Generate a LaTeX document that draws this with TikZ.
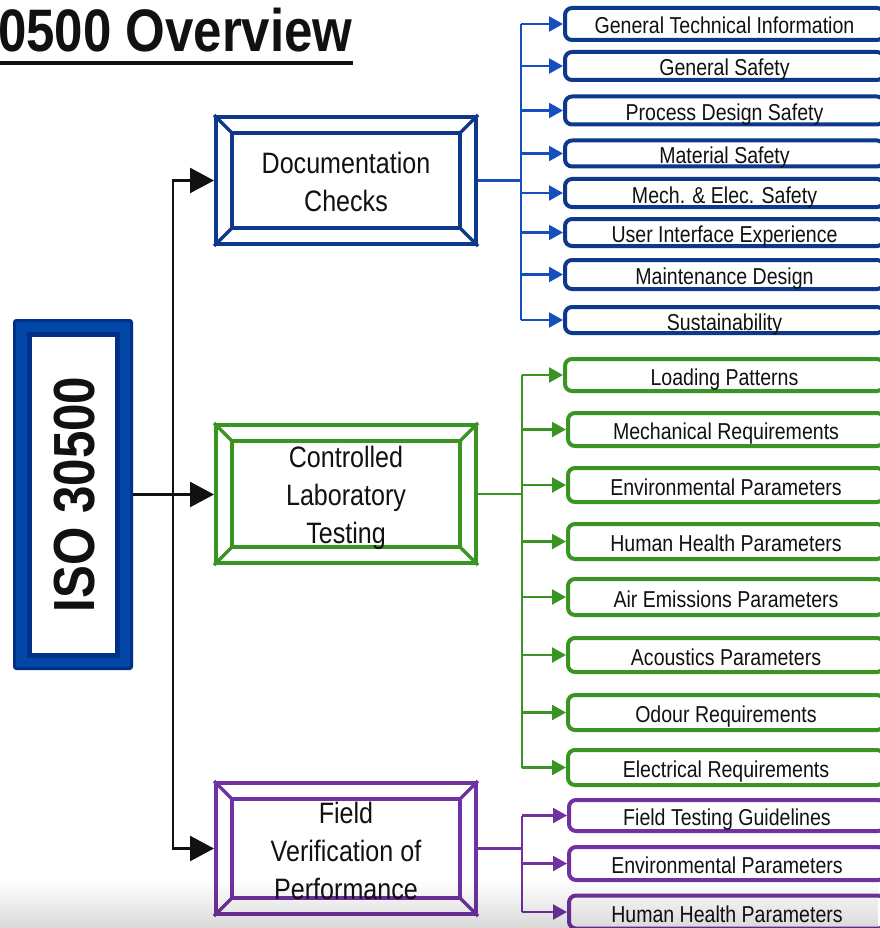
\documentclass[tikz,border=0pt]{standalone}
\usepackage{fontspec}
\setmainfont{Liberation Sans}
\newfontfamily\nar[FakeStretch=0.85]{Liberation Sans}
\usetikzlibrary{arrows.meta,calc,fadings}

\definecolor{navy}{RGB}{14,56,140}
\definecolor{linkblue}{RGB}{22,78,190}
\definecolor{isoblue}{RGB}{2,70,168}
\definecolor{isodark}{RGB}{0,48,135}
\definecolor{grn}{RGB}{58,148,34}
\definecolor{prp}{RGB}{112,50,160}
\definecolor{ink}{RGB}{17,17,17}

\tikzfading[name=hazefade, top color=transparent!100, bottom color=transparent!0]

% inner frame and corner bevels of a framed heading box
\newcommand\bevelparts[2]{%
  \draw[#2, line width=4pt]
    ($(#1.north west)+(18,18)$) rectangle ($(#1.south east)+(-18,-18)$);
  \draw[#2, line width=3.5pt]
    (#1.north west) -- +(18,18)
    (#1.north east) -- +(-18,18)
    (#1.south west) -- +(18,-18)
    (#1.south east) -- +(-18,-18);
}

\begin{document}
\begin{tikzpicture}[x=1pt,y=-1pt,
  bevel/.style={draw=#1, line width=4pt, rectangle, inner sep=0pt,
    minimum width=260pt},
  bigtext/.style={align=center, text=ink, inner sep=0pt,
    font=\nar\fontsize{29.5}{38}\selectfont},
  subbox/.style={draw=#1, line width=4pt, rounded corners=7pt, rectangle,
    inner sep=0pt, anchor=west, text=ink, fill=white,
    text height=20pt, text depth=0pt,
    font=\nar\fontsize{23}{23}\selectfont},
  mainarr/.style={line width=2.5pt, ink, -{Triangle[length=24pt,width=25pt]}},
  bus/.style={line width=2.2pt, #1},
  subarr/.style={line width=2.2pt, #1, -{Triangle[length=14pt,width=15pt]}},
]
\fill[white] (0,0) rectangle (879,928);
\useasboundingbox (0,0) rectangle (879,928);

% title
\node[anchor=base west, inner sep=0pt, text=ink,
  font=\nar\bfseries\fontsize{60}{60}\selectfont] (title) at (-2,52) {0500 Overview};
\draw[ink, line width=3.5pt] ($(title.base west)+(0,11)$) -- ($(title.base east)+(0,11)$);

% standard block
\node[draw=isodark, fill=isoblue, line width=3pt, rounded corners=2pt,
  minimum width=117pt, minimum height=348pt, inner sep=0pt] (iso) at (73,494.5) {};
\draw[isodark, fill=white, line width=5pt]
  ($(iso.north west)+(16,15)$) rectangle ($(iso.south east)+(-16,-15)$);
\node[rotate=90, inner sep=0pt, text=ink,
  font=\nar\bfseries\fontsize{58}{58}\selectfont] (isot) at ($(iso.center)+(2,0)$) {ISO 30500};

% heading boxes
\node[bevel=navy, minimum height=127pt] (doc) at (346,180.5) {};
\bevelparts{doc}{navy}
\node[bigtext] (doct) at ($(doc.center)+(0,1)$) {Documentation\\Checks};

\node[bevel=grn, minimum height=138pt] (ctl) at (346,494) {};
\bevelparts{ctl}{grn}
\node[bigtext] (ctlt) at ($(ctl.center)+(0,4)$) {Controlled\\Laboratory\\Testing};

\node[bevel=prp, minimum height=131pt] (fld) at (346,848.5) {};
\bevelparts{fld}{prp}
\node[bigtext] (fldt) at ($(fld.center)+(0,2.5)$) {Field\\Verification of\\Performance};

% main connectors
\coordinate (hub) at (173,494.5);
\draw[mainarr] (iso.east) -- (iso.east -| ctl.west);
\draw[mainarr] (hub) |- (doc.west);
\draw[mainarr] (hub) |- (fld.west);

% documentation items
\node[subbox=navy, minimum width=319pt, minimum height=32pt] (d1) at (563,24) {General Technical Information};
\node[subbox=navy, minimum width=319pt, minimum height=28pt] (d2) at (563,66) {General Safety};
\node[subbox=navy, minimum width=319pt, minimum height=28pt] (d3) at (563,110.5) {Process Design Safety};
\node[subbox=navy, minimum width=319pt, minimum height=26pt] (d4) at (563,153.5) {Material Safety};
\node[subbox=navy, minimum width=319pt, minimum height=28pt] (d5) at (563,193) {Mech. \& Elec. Safety};
\node[subbox=navy, minimum width=319pt, minimum height=27pt] (d6) at (563,232.5) {User Interface Experience};
\node[subbox=navy, minimum width=319pt, minimum height=29pt] (d7) at (563,274.5) {Maintenance Design};
\node[subbox=navy, minimum width=319pt, minimum height=26pt] (d8) at (563,320) {Sustainability};

\coordinate (dbus) at (521,0);
\draw[bus=linkblue] (doc.east) -- (doc.east -| dbus);
\draw[bus=linkblue] (dbus |- d1.west) -- (dbus |- d8.west);
\foreach \i in {1,...,8} \draw[subarr=linkblue] (dbus |- d\i.west) -- (d\i.west);

% laboratory items
\node[subbox=grn, minimum width=319pt, minimum height=32pt] (c1) at (563,375) {Loading Patterns};
\node[subbox=grn, minimum width=316pt, minimum height=33pt] (c2) at (566,429.5) {Mechanical Requirements};
\node[subbox=grn, minimum width=316pt, minimum height=34pt] (c3) at (566,485) {Environmental Parameters};
\node[subbox=grn, minimum width=316pt, minimum height=35pt] (c4) at (566,541.5) {Human Health Parameters};
\node[subbox=grn, minimum width=316pt, minimum height=36pt] (c5) at (566,597) {Air Emissions Parameters};
\node[subbox=grn, minimum width=316pt, minimum height=34pt] (c6) at (566,655) {Acoustics Parameters};
\node[subbox=grn, minimum width=316pt, minimum height=35pt] (c7) at (566,712.5) {Odour Requirements};
\node[subbox=grn, minimum width=316pt, minimum height=35pt] (c8) at (566,767.5) {Electrical Requirements};

\coordinate (cbus) at (522,0);
\draw[bus=grn] (ctl.east) -- (ctl.east -| cbus);
\draw[bus=grn] (cbus |- c1.west) -- (cbus |- c8.west);
\foreach \i in {1,...,8} \draw[subarr=grn] (cbus |- c\i.west) -- (c\i.west);

% field items
\node[subbox=prp, minimum width=316pt, minimum height=31pt] (f1) at (567,815.5) {Field Testing Guidelines};
\node[subbox=prp, minimum width=316pt, minimum height=33pt] (f2) at (567,863.5) {Environmental Parameters};
\node[subbox=prp, minimum width=316pt, minimum height=33pt] (f3) at (567,912) {Human Health Parameters};

\coordinate (fbus) at (522,0);
\draw[bus=prp] (fld.east) -- (fld.east -| fbus);
\draw[bus=prp] (fbus |- f1.west) -- (fbus |- f3.west);
\foreach \i in {1,...,3} \draw[subarr=prp] (fbus |- f\i.west) -- (f\i.west);

% grey haze along the lower edge
\fill[black, opacity=0.15, path fading=hazefade] (0,880) rectangle (879,928);
\end{tikzpicture}
\end{document}
